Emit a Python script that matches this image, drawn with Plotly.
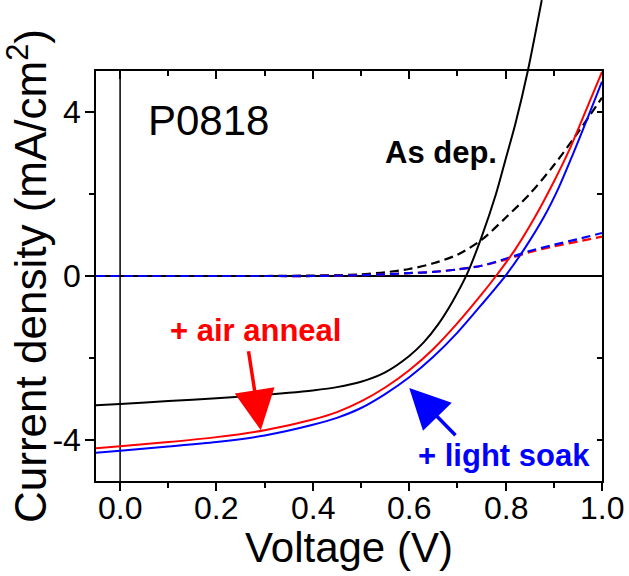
import plotly.graph_objects as go

# ---- data ----
v_asdep = [-0.05, 0.0, 0.1, 0.2, 0.3, 0.35, 0.4, 0.45, 0.5, 0.55, 0.6, 0.63, 0.66, 0.69, 0.72, 0.75, 0.78, 0.80, 0.82, 0.846, 0.875]
j_asdep = [-3.15, -3.12, -3.05, -2.98, -2.90, -2.85, -2.79, -2.71, -2.58, -2.35, -1.95, -1.62, -1.18, -0.62, 0.05, 0.95, 2.0, 2.85, 3.7, 5.0, 6.73]

v_air = [-0.05, 0.0, 0.1, 0.2, 0.3, 0.4, 0.45, 0.5, 0.55, 0.6, 0.65, 0.7, 0.75, 0.78, 0.82, 0.86, 0.9, 0.93, 0.96, 1.0]
j_air = [-4.20, -4.15, -4.05, -3.93, -3.76, -3.50, -3.32, -3.06, -2.72, -2.30, -1.78, -1.15, -0.45, 0.0, 0.65, 1.42, 2.30, 3.02, 3.85, 4.98]

v_soak = [-0.05, 0.0, 0.1, 0.2, 0.3, 0.4, 0.45, 0.5, 0.55, 0.6, 0.65, 0.7, 0.75, 0.8, 0.84, 0.88, 0.91, 0.94, 0.97, 1.0]
j_soak = [-4.31, -4.26, -4.16, -4.05, -3.89, -3.63, -3.46, -3.22, -2.88, -2.47, -1.97, -1.38, -0.70, 0.01, 0.68, 1.45, 2.15, 2.98, 3.85, 4.74]

v_dark = [-0.05, 0.0, 0.1, 0.2, 0.3, 0.4, 0.45, 0.5, 0.55, 0.6, 0.65, 0.7, 0.75, 0.8, 0.85, 0.9, 0.95, 1.0]
j_dark_asdep = [0, 0, 0, 0, 0, 0.01, 0.02, 0.04, 0.09, 0.17, 0.31, 0.52, 0.88, 1.42, 2.0, 2.7, 3.5, 4.35]
j_dark_air = [0, 0, 0, 0, 0, 0, 0.01, 0.02, 0.04, 0.07, 0.10, 0.16, 0.25, 0.40, 0.58, 0.72, 0.84, 0.96]
j_dark_soak = [0, 0, 0, 0, 0, 0, 0.01, 0.02, 0.04, 0.07, 0.10, 0.16, 0.25, 0.42, 0.61, 0.76, 0.90, 1.05]

x_ticks = [0.0, 0.2, 0.4, 0.6, 0.8, 1.0]
x_ticktext = ["0.0", "0.2", "0.4", "0.6", "0.8", "1.0"]
x_minor = [0.1, 0.3, 0.5, 0.7, 0.9]
y_ticks = [-4, 0, 4]
y_ticktext = ["-4", "0", "4"]
y_minor = [-2, 2]

RED = "#FF0000"
BLUE = "#0000FF"
ARIAL = "Liberation Sans, Arial"
CLEAR = "rgba(0,0,0,0)"

fig = go.Figure()

dash = "9px,5px"
def line(color, dashed=False, width=2):
    d = dict(color=color, width=width, shape="spline", smoothing=0.8)
    if dashed:
        d["dash"] = dash
        d["width"] = 2.2
    return d

fig.add_trace(go.Scatter(x=v_dark, y=j_dark_asdep, mode="lines", line=line("black", True)))
fig.add_trace(go.Scatter(x=v_dark, y=j_dark_air, mode="lines", line=line(RED, True)))
fig.add_trace(go.Scatter(x=v_dark, y=j_dark_soak, mode="lines", line=line(BLUE, True)))
fig.add_trace(go.Scatter(x=v_air, y=j_air, mode="lines", line=line(RED)))
fig.add_trace(go.Scatter(x=v_soak, y=j_soak, mode="lines", line=line(BLUE)))
# as-deposited curve runs above the frame: drawn on a taller invisible axis with the same scale
fig.add_trace(go.Scatter(x=v_asdep, y=j_asdep, mode="lines", line=line("black"),
                         xaxis="x", yaxis="y2"))
# helper traces so the mirrored axes are drawn
fig.add_trace(go.Scatter(x=[], y=[], xaxis="x2", yaxis="y", hoverinfo="skip"))
fig.add_trace(go.Scatter(x=[], y=[], xaxis="x", yaxis="y3", hoverinfo="skip"))

XR = [-0.05, 1.0]
YR = [-5, 5]
top_frac = 410 / 481
y2_top = -5 + 10 / top_frac

fig.update_layout(
    width=629, height=576,
    margin=dict(l=96, r=27, t=0, b=95),
    paper_bgcolor="white", plot_bgcolor=CLEAR,
    showlegend=False,
    xaxis=dict(domain=[0, 1], range=XR, anchor="y",
               tickvals=x_ticks, ticktext=x_ticktext, showticklabels=False,
               ticks="outside", ticklen=8, tickwidth=1.5, tickcolor="black",
               minor=dict(tickvals=x_minor, ticks="outside", ticklen=5, tickwidth=1.5, tickcolor="black"),
               showline=True, linewidth=1.5, linecolor="black",
               showgrid=False, zeroline=False,
               title=dict(text="Voltage (V)", font=dict(family=ARIAL, size=42, color="black"), standoff=43)),
    xaxis2=dict(overlaying="x", side="top", anchor="y", range=XR,
                tickvals=x_ticks, ticks="inside", ticklen=8, tickwidth=1.5, tickcolor="black",
                minor=dict(tickvals=x_minor, ticks="inside", ticklen=5, tickwidth=1.5, tickcolor="black"),
                showline=True, linewidth=1.5, linecolor="black",
                showgrid=False, zeroline=False, showticklabels=False),
    yaxis=dict(domain=[0, top_frac], range=YR, anchor="x",
               tickvals=y_ticks, ticktext=y_ticktext,
               ticks="outside", ticklen=9, tickwidth=1.5, tickcolor="black",
               minor=dict(tickvals=y_minor, ticks="outside", ticklen=5, tickwidth=1.5, tickcolor="black"),
               showline=True, linewidth=1.5, linecolor="black",
               showgrid=False, zeroline=True, zerolinecolor="black", zerolinewidth=1.5,
               tickfont=dict(family=ARIAL, size=32, color="black"), ticklabelstandoff=-2,
               title=dict(text="Current density (mA/cm<sup>2</sup>)",
                          font=dict(family=ARIAL, size=44, color="black"), standoff=2)),
    yaxis2=dict(domain=[0, 1], range=[-5, y2_top], anchor="x", visible=False,
                showgrid=False, zeroline=False),
    yaxis3=dict(overlaying="y", side="right", anchor="x", range=YR,
                tickvals=[-4, -2, 0, 2, 4], ticks="inside", ticklen=5, tickwidth=1.5, tickcolor="black",
                showline=True, linewidth=1.5, linecolor="black",
                showgrid=False, zeroline=False, showticklabels=False),
)

# x tick labels placed closer to the axis than Plotly's default
for v, t in zip(x_ticks, x_ticktext):
    fig.add_annotation(x=v, y=0, xref="x", yref="paper", text=t, showarrow=False,
                       yanchor="middle", yshift=-27,
                       font=dict(family=ARIAL, size=32, color="black"))

# vertical zero-voltage line limited to the frame
fig.add_shape(type="line", xref="x", yref="y domain", x0=0, x1=0, y0=0, y1=1,
              line=dict(color="black", width=1.5), layer="below")

# text labels
fig.add_annotation(x=0.183, y=3.80, xref="x", yref="y", text="P0818", showarrow=False,
                   font=dict(family=ARIAL, size=42, color="black"))
fig.add_annotation(x=0.666, y=3.0, xref="x", yref="y", text="<b>As dep.</b>", showarrow=False,
                   font=dict(family=ARIAL, size=31, color="black"))
fig.add_annotation(x=0.280, y=-1.34, xref="x", yref="y", text="<b>+ air anneal</b>", showarrow=False,
                   font=dict(family=ARIAL, size=31, color=RED))
fig.add_annotation(x=0.797, y=-4.37, xref="x", yref="y", text="<b>+ light soak</b>", showarrow=False,
                   font=dict(family=ARIAL, size=31, color=BLUE))

# arrows
fig.add_annotation(x=0.292, y=-3.76, ax=0.266, ay=-1.80, xref="x", yref="y", axref="x", ayref="y",
                   text="", showarrow=True, arrowhead=2, arrowsize=2.3, arrowwidth=3.5, arrowcolor=RED)
fig.add_annotation(x=0.600, y=-2.73, ax=0.699, ay=-3.92, xref="x", yref="y", axref="x", ayref="y",
                   text="", showarrow=True, arrowhead=2, arrowsize=2.3, arrowwidth=3.5, arrowcolor=BLUE)

fig.write_html("out.html")
